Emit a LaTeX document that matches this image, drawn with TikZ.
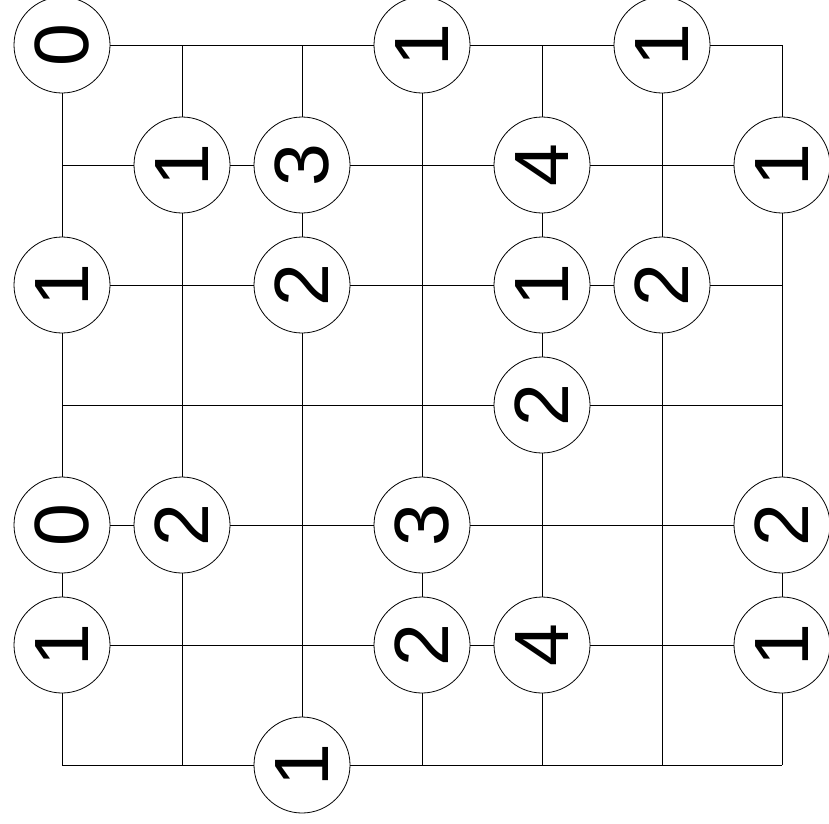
\documentclass[tikz,border=0pt]{standalone}
\usepackage{fontspec}
\setmainfont{Liberation Sans}
\usetikzlibrary{positioning}

\begin{document}
\begin{tikzpicture}[x=1pt,y=-1pt,
 clue/.style={draw,circle,fill=white,minimum size=96pt,inner sep=0pt,line width=0.8pt,
  font=\fontsize{77}{77}\selectfont,rotate=90}]
\useasboundingbox (0,0) rectangle (829,823);
\foreach \r in {0,...,6} \foreach \c in {0,...,6}
 \coordinate (p\r\c) at (62+120*\c,45+120*\r);
\foreach \i in {0,...,6} {\draw[line width=0.8pt] (p\i0)--(p\i6); \draw[line width=0.8pt] (p0\i)--(p6\i);}
\node[clue] (c00) at (p00) {0};
\node[clue] (c03) at (p03) {1};
\node[clue] (c05) at (p05) {1};
\node[clue] (c11) at (p11) {1};
\node[clue] (c12) at (p12) {3};
\node[clue] (c14) at (p14) {4};
\node[clue] (c16) at (p16) {1};
\node[clue] (c20) at (p20) {1};
\node[clue] (c22) at (p22) {2};
\node[clue] (c24) at (p24) {1};
\node[clue] (c25) at (p25) {2};
\node[clue] (c34) at (p34) {2};
\node[clue] (c40) at (p40) {0};
\node[clue] (c41) at (p41) {2};
\node[clue] (c43) at (p43) {3};
\node[clue] (c46) at (p46) {2};
\node[clue] (c50) at (p50) {1};
\node[clue] (c53) at (p53) {2};
\node[clue] (c54) at (p54) {4};
\node[clue] (c56) at (p56) {1};
\node[clue] (c62) at (p62) {1};
\end{tikzpicture}
\end{document}
